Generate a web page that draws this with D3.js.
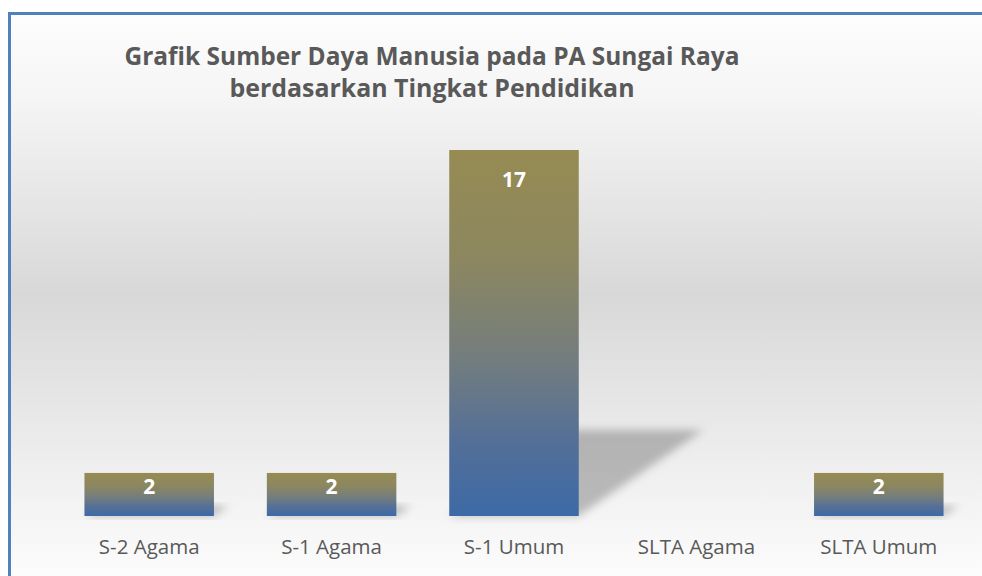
<!DOCTYPE html>
<html>
<head>
<meta charset="utf-8">
<script src="https://cdn.jsdelivr.net/npm/d3@7"></script>
<style>
  html, body { margin: 0; padding: 0; background: #fff; }
  svg { display: block; }
</style>
</head>
<body>
<div id="chart"></div>
<script>
// chart values
var categories = ["S-2 Agama", "S-1 Agama", "S-1 Umum", "SLTA Agama", "SLTA Umum"];
var jumlah = [2, 2, 17, 0, 2];
var titleLines = ["Grafik Sumber Daya Manusia pada PA Sungai Raya", "berdasarkan Tingkat Pendidikan"];

var W = 982, H = 576;
var margin = {left: 58, right: 12, top: 150, bottom: 60};
var baseY = 516;

var svg = d3.select("#chart").append("svg")
    .attr("width", W)
    .attr("height", H);

var defs = svg.append("defs");

// background gradient of the chart area
var bg = defs.append("linearGradient")
    .attr("id", "bgGrad")
    .attr("x1", 0).attr("y1", 0).attr("x2", 0).attr("y2", 1);
bg.append("stop").attr("offset", "0%").attr("stop-color", "#fdfdfd");
bg.append("stop").attr("offset", "15%").attr("stop-color", "#f5f5f5");
bg.append("stop").attr("offset", "50%").attr("stop-color", "#d8d8d8");
bg.append("stop").attr("offset", "80%").attr("stop-color", "#eeeeee");
bg.append("stop").attr("offset", "100%").attr("stop-color", "#fcfcfc");

// bar gradient olive -> blue
var barGrad = defs.append("linearGradient")
    .attr("id", "barGrad")
    .attr("x1", 0).attr("y1", 0).attr("x2", 0).attr("y2", 1);
barGrad.append("stop").attr("offset", "0%").attr("stop-color", "#968b52");
barGrad.append("stop").attr("offset", "30%").attr("stop-color", "#8c8760");
barGrad.append("stop").attr("offset", "55%").attr("stop-color", "#767e7c");
barGrad.append("stop").attr("offset", "80%").attr("stop-color", "#536f98");
barGrad.append("stop").attr("offset", "100%").attr("stop-color", "#3d6aa6");

var blur = defs.append("filter")
    .attr("id", "shadowBlur")
    .attr("x", "-30%").attr("y", "-30%")
    .attr("width", "160%").attr("height", "160%");
blur.append("feGaussianBlur").attr("stdDeviation", 4);

// panel background + blue frame (top and left)
svg.append("rect")
    .attr("x", 9).attr("y", 13)
    .attr("width", W - 9).attr("height", H - 13)
    .attr("fill", "url(#bgGrad)");

svg.append("path")
    .attr("d", "M9.5,576 L9.5,13.5 L982,13.5")
    .attr("fill", "none")
    .attr("stroke", "#4f81bd")
    .attr("stroke-width", 3);

// scales
var x = d3.scaleBand()
    .domain(categories)
    .range([margin.left, W - margin.right])
    .paddingInner(0.29)
    .paddingOuter(0.145);

var y = d3.scaleLinear()
    .domain([0, 17])
    .range([baseY, margin.top]);

var data = categories.map(function(c, i) {
    return {cat: c, val: jumlah[i]};
});

// floor shadows cast to the right
var skewX = 0.34, skewY = 0.235;
svg.append("g").selectAll("path")
    .data(data.filter(function(d) { return d.val > 0; }))
    .enter().append("path")
    .attr("d", function(d) {
        var x0 = x(d.cat), x1 = x0 + x.bandwidth();
        var h = baseY - y(d.val);
        var dx = h * skewX, dy = h * skewY;
        return "M" + x0 + "," + baseY +
            " L" + x1 + "," + baseY +
            " L" + (x1 + dx) + "," + (baseY - dy) +
            " L" + (x0 + dx) + "," + (baseY - dy) + "Z";
    })
    .attr("fill", "#000")
    .attr("fill-opacity", 0.24)
    .attr("filter", "url(#shadowBlur)");

// bars
svg.append("g").selectAll("rect")
    .data(data)
    .enter().append("rect")
    .attr("x", function(d) { return x(d.cat); })
    .attr("y", function(d) { return y(d.val); })
    .attr("width", x.bandwidth())
    .attr("height", function(d) { return baseY - y(d.val); })
    .attr("fill", "url(#barGrad)");

// value labels inside top of bar
svg.append("g").selectAll("text")
    .data(data.filter(function(d) { return d.val > 0; }))
    .enter().append("text")
    .attr("x", function(d) { return x(d.cat) + x.bandwidth() / 2; })
    .attr("y", function(d) {
        var h = baseY - y(d.val);
        return y(d.val) + Math.min(37, h * 0.48);
    })
    .attr("text-anchor", "middle")
    .style("font-family", "'Open Sans', 'Noto Sans', sans-serif")
    .style("font-weight", "bold")
    .style("font-size", "21px")
    .style("fill", "#fff")
    .text(function(d) { return d.val; });

// category axis
var xaxis = d3.axisBottom(x).tickSize(0);
var gx = svg.append("g")
    .attr("transform", "translate(0," + baseY + ")")
    .call(xaxis);
gx.select(".domain").remove();
gx.selectAll("text")
    .attr("y", 38)
    .attr("dy", null)
    .style("font-family", "'Open Sans', 'Noto Sans', sans-serif")
    .style("font-size", "20.5px")
    .style("fill", "#595959");

// title
var titleLen = [615, 405];
svg.append("g").selectAll("text")
    .data(titleLines)
    .enter().append("text")
    .attr("x", 432)
    .attr("y", function(d, i) { return 65 + i * 32; })
    .attr("text-anchor", "middle")
    .attr("textLength", function(d, i) { return titleLen[i]; })
    .attr("lengthAdjust", "spacingAndGlyphs")
    .style("font-family", "'Open Sans', 'Noto Sans', sans-serif")
    .style("font-weight", "bold")
    .style("font-size", "25px")
    .style("fill", "#595959")
    .text(function(d) { return d; });
</script>
</body>
</html>
